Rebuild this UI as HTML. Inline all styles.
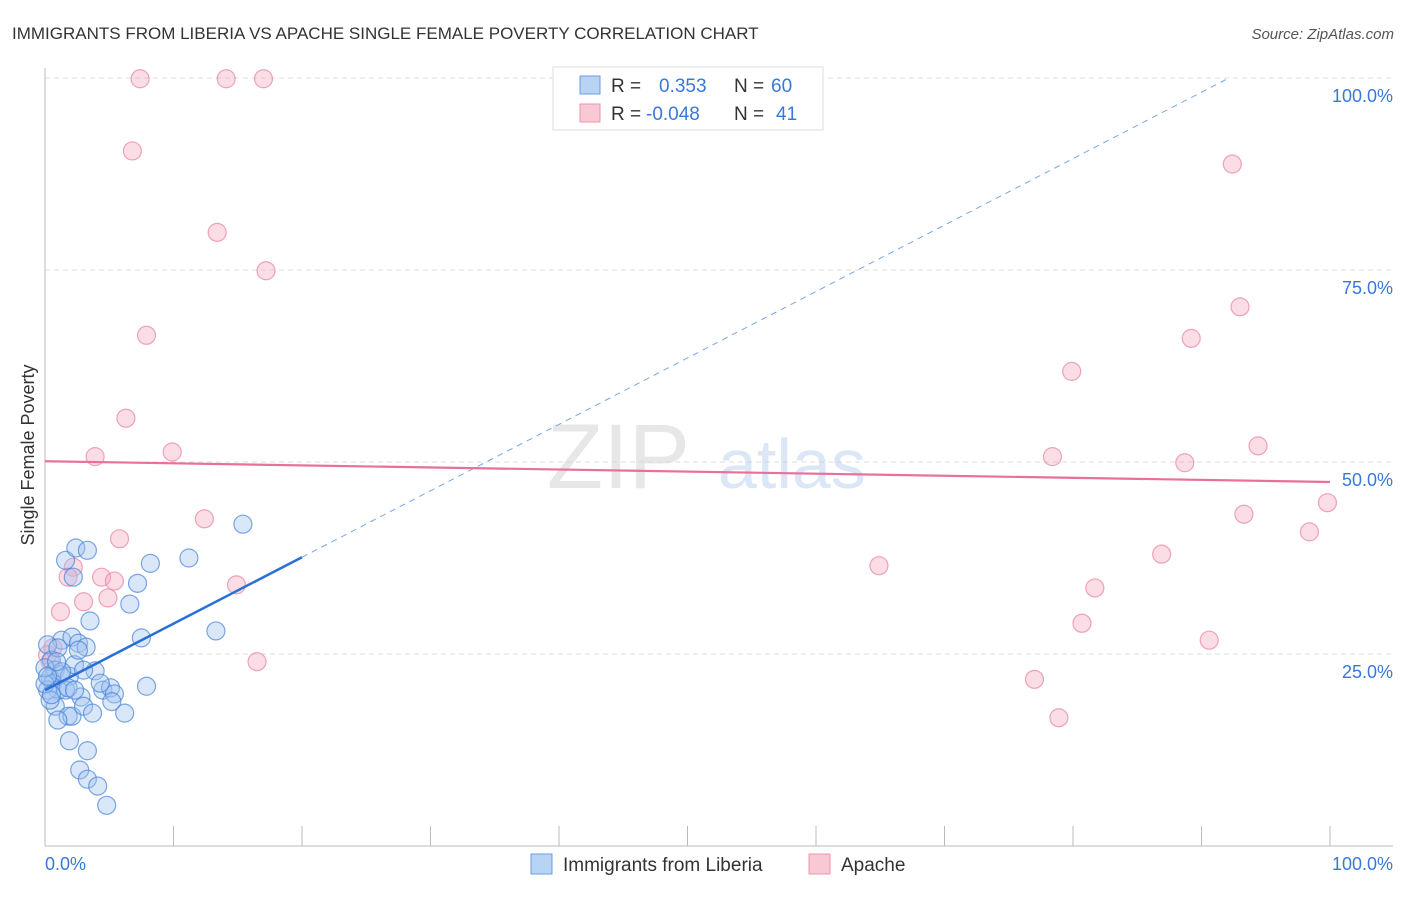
<!DOCTYPE html>
<html><head><meta charset="utf-8"><style>
body{margin:0;background:#fff;font-family:"Liberation Sans",sans-serif}
svg text{font-family:"Liberation Sans",sans-serif}
</style></head><body>
<svg id="chart" width="1406" height="892">
<text x="12" y="39" font-size="17" fill="#333">IMMIGRANTS FROM LIBERIA VS APACHE SINGLE FEMALE POVERTY CORRELATION CHART</text>
<text x="1394" y="39" font-size="15" fill="#555" font-style="italic" text-anchor="end">Source: ZipAtlas.com</text>
<text x="34" y="455" font-size="18" fill="#333" text-anchor="middle" transform="rotate(-90 34 455)">Single Female Poverty</text>
<g id="grid"></g>
<g><text x="690" y="488" font-size="92" fill="#d8d8d8" text-anchor="end" font-family="Liberation Serif" opacity="0.6">ZIP</text><text x="718" y="488" font-size="70" fill="#b8d0ee" opacity="0.5">atlas</text></g>
<g id="pts"></g>
<g id="lines"></g>
<g>
<rect x="553" y="67" width="270" height="63" fill="#fff" stroke="#ddd"/>
<rect x="580" y="76" width="20" height="18" fill="#b8d4f5" stroke="#6b9be0"/>
<text x="611" y="92" font-size="19" fill="#333">R =</text><text x="659" y="92" font-size="19" fill="#3a78d8">0.353</text>
<text x="734" y="92" font-size="19" fill="#333">N =</text><text x="771" y="92" font-size="19" fill="#3a78d8">60</text>
<rect x="580" y="104" width="20" height="18" fill="#f9c8d5" stroke="#e895ad"/>
<text x="611" y="120" font-size="19" fill="#333">R =</text><text x="646" y="120" font-size="19" fill="#3a78d8">-0.048</text>
<text x="734" y="120" font-size="19" fill="#333">N =</text><text x="776" y="120" font-size="19" fill="#3a78d8">41</text>
</g>
<g>
<rect x="531" y="854" width="21" height="20" fill="#b8d4f5" stroke="#6b9be0"/>
<text x="563" y="871" font-size="19" fill="#333">Immigrants from Liberia</text>
<rect x="809" y="854" width="21" height="20" fill="#f9c8d5" stroke="#e895ad"/>
<text x="841" y="871" font-size="19" fill="#333">Apache</text>
</g>
<text x="45" y="870" font-size="18" fill="#3a78d8">0.0%</text>
<text x="1393" y="870" font-size="18" fill="#3a78d8" text-anchor="end">100.0%</text>
</svg>
<script>
const blueX=[1.6,2.4,3.3,2.2,3.5,1.3,2.1,2.6,3.2,0.2,0.5,0.8,0.4,1.2,1.9,2.3,3.9,0.6,1.0,0.2,2.8,0.8,1.8,2.1,3.0,3.7,4.5,5.1,5.4,5.2,6.2,7.9,1.0,1.9,3.3,2.7,3.3,4.1,4.8,6.6,7.2,8.2,7.5,11.2,15.4,13.3,1.6,0.4,0.0,1.3,4.3,2.6,0.0,1.8,3.0,1.0,0.5,0.2,2.3,0.9];
const blueY=[37.2,38.8,38.5,35.0,29.3,26.8,27.2,26.4,25.9,26.2,24.2,22.9,21.9,22.3,22.1,23.6,22.8,21.2,20.3,20.3,19.4,18.2,16.9,16.9,18.2,17.3,20.3,20.6,19.8,18.8,17.3,20.8,16.4,13.7,12.4,9.9,8.7,7.8,5.3,31.5,34.2,36.8,27.1,37.5,41.9,28.0,20.3,19.0,21.1,22.7,21.2,25.5,23.2,20.6,22.9,25.8,19.7,22.1,20.3,24.0];
const pinkX=[7.4,14.1,17.0,6.8,13.4,17.2,7.9,6.3,3.9,9.9,12.4,5.8,2.2,4.4,5.4,1.8,3.0,4.9,1.2,14.9,16.5,0.6,0.4,92.4,93.0,89.2,79.9,94.4,78.4,88.7,93.3,99.8,98.4,64.9,86.9,81.7,80.7,90.6,77.0,78.9,0.2];
const pinkY=[99.9,99.9,99.9,90.5,79.9,74.9,66.5,55.7,50.7,51.3,42.6,40.0,36.3,35.0,34.5,35.0,31.8,32.3,30.5,34.0,24.0,25.8,24.0,88.8,70.2,66.1,61.8,52.1,50.7,49.9,43.2,44.7,40.9,36.5,38.0,33.6,29.0,26.8,21.7,16.7,24.9];
const blueTrend=[20.3,0.865];
const pinkTrend=[50.1,-0.027];
const yTicks=[25,50,75,100];
const yTickLabels=["25.0%","50.0%","75.0%","100.0%"];
const xTicks=[0,10,20,30,40,50,60,70,80,90,100];
const NS="http://www.w3.org/2000/svg";
const sx=v=>45+v*12.85, sy=v=>846-v*7.68;
function mk(tag,attrs,parent){const e=document.createElementNS(NS,tag);for(const k in attrs)e.setAttribute(k,attrs[k]);parent.appendChild(e);return e;}
const svg=document.getElementById('chart');
const grid=document.getElementById('grid');
yTicks.forEach((t,i)=>{
  const l=mk('line',{x1:45,x2:1393,y1:sy(t),y2:sy(t),stroke:'#ddd','stroke-dasharray':'5,4'},grid);
  
  
  const tx=mk('text',{x:1393,y:sy(t)+24,'font-size':18,fill:'#3a78d8','text-anchor':'end'},grid);
  tx.textContent=yTickLabels[i];
  
  
});
const ax=mk('line',{x1:45,x2:1393,y1:846,y2:846,stroke:'#bbb'},grid);


const ay=mk('line',{x1:45,x2:45,y1:68,y2:846,stroke:'#bbb'},grid);


xTicks.forEach(t=>{
  const l=mk('line',{x1:sx(t),x2:sx(t),y1:826,y2:846,stroke:'#bbb'},grid);
  
  
});
const pts=document.getElementById('pts');
pinkX.forEach((x,i)=>{
  const c=mk('circle',{cx:sx(x),cy:sy(pinkY[i]),r:9,fill:'rgba(245,170,192,0.4)',stroke:'rgba(230,130,160,0.7)','stroke-width':1.2},pts);
  
  
});
blueX.forEach((x,i)=>{
  const c=mk('circle',{cx:sx(x),cy:sy(blueY[i]),r:9,fill:'rgba(160,195,240,0.4)',stroke:'rgba(70,130,215,0.7)','stroke-width':1.2},pts);
  
  
});
const lines=document.getElementById('lines');
const bt=x=>blueTrend[0]+blueTrend[1]*x;
const pt=x=>pinkTrend[0]+pinkTrend[1]*x;
const xEnd=(100-blueTrend[0])/blueTrend[1];
const bd=mk('line',{x1:sx(20),y1:sy(bt(20)),x2:sx(xEnd),y2:sy(bt(xEnd)),stroke:'#7aa6e6','stroke-width':1,'stroke-dasharray':'6,5'},lines);


const bs=mk('line',{x1:sx(0),y1:sy(bt(0)),x2:sx(20),y2:sy(bt(20)),stroke:'#2a6fd6','stroke-width':2.5},lines);


const pl=mk('line',{x1:sx(0),y1:sy(pt(0)),x2:sx(100),y2:sy(pt(100)),stroke:'#e8709a','stroke-width':2.2},lines);


</script>
</body></html>
